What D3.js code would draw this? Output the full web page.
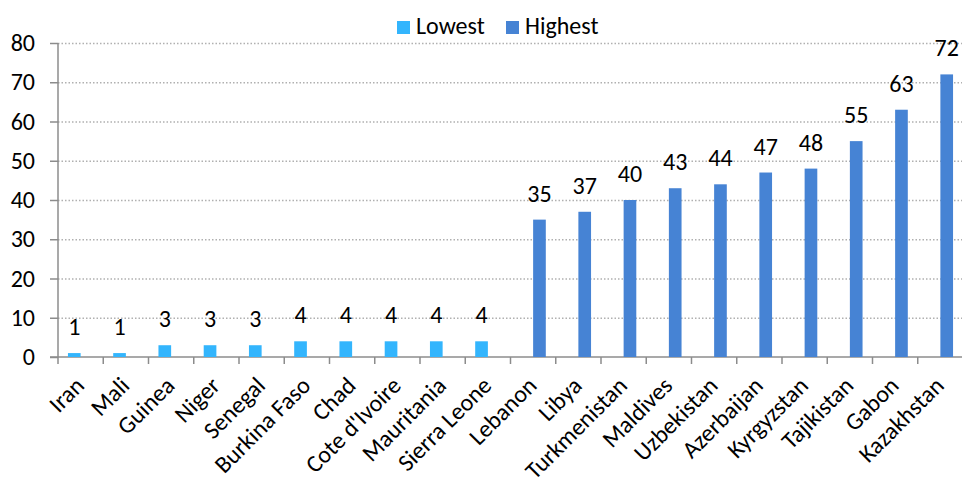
<!DOCTYPE html>
<html>
<head>
<meta charset="utf-8">
<script src="https://cdn.jsdelivr.net/npm/d3@7"></script>
<style>
  body { margin: 0; background: #fff; }
  svg text { font-family: Carlito, Lato, "Open Sans", sans-serif; fill: #000; }
</style>
</head>
<body>
<div id="drawArea"></div>
<script>
const countries = ['Iran', 'Mali', 'Guinea', 'Niger', 'Senegal', 'Burkina Faso', 'Chad',
  "Cote d'Ivoire", 'Mauritania', 'Sierra Leone', 'Lebanon', 'Libya', 'Turkmenistan',
  'Maldives', 'Uzbekistan', 'Azerbaijan', 'Kyrgyzstan', 'Tajikistan', 'Gabon', 'Kazakhstan'];
const seriesNames = ['Lowest', 'Highest'];
const lowestValues = [1, 1, 3, 3, 3, 4, 4, 4, 4, 4, null, null, null, null, null, null, null, null, null, null];
const highestValues = [null, null, null, null, null, null, null, null, null, null, 35, 37, 40, 43, 44, 47, 48, 55, 63, 72];
const yTicks = [0, 10, 20, 30, 40, 50, 60, 70, 80];
const colors = { Lowest: '#33b5fd', Highest: '#4683d4' };

const width = 962, height = 478;
const margin = { top: 43, right: 0, bottom: 121, left: 58 };
const fontSize = 24;

const svg = d3.select('#drawArea').append('svg')
  .attr('width', width)
  .attr('height', height);

const x = d3.scaleBand()
  .domain(countries)
  .range([margin.left, 963])
  .padding(0);

const gap = x.bandwidth() * 0.44;
const x1 = d3.scaleBand()
  .domain(seriesNames)
  .range([gap / 2, x.bandwidth() - gap / 2]);

const y = d3.scaleLinear()
  .domain([0, 80])
  .range([height - margin.bottom, margin.top]);

// dotted gridlines
svg.append('g')
  .attr('transform', `translate(${margin.left},0)`)
  .call(d3.axisLeft(y).tickValues(yTicks.slice(1)).tickSize(-(width - margin.left)).tickFormat(''))
  .call(g => g.select('.domain').remove())
  .selectAll('line')
  .attr('stroke', '#b0b0b0')
  .attr('stroke-width', 1.3)
  .attr('stroke-dasharray', '1.5,2');

// y axis
svg.append('g')
  .attr('transform', `translate(${margin.left},0)`)
  .call(d3.axisLeft(y).tickValues(yTicks).tickSize(8).tickPadding(15))
  .call(g => g.select('.domain').attr('stroke', '#8c8c8c').attr('stroke-width', 1.5).attr('d', `M0,${y(0)}V${y(80)}`))
  .call(g => g.selectAll('line').attr('stroke', '#8c8c8c').attr('stroke-width', 1.5))
  .call(g => g.selectAll('text').attr('font-size', fontSize).attr('fill', '#000')
    .attr('font-family', 'Carlito, Lato, sans-serif'));

// x axis line + boundary ticks
const xAxisG = svg.append('g');
xAxisG.append('line')
  .attr('x1', margin.left - 8).attr('x2', width)
  .attr('y1', y(0)).attr('y2', y(0))
  .attr('stroke', '#8c8c8c').attr('stroke-width', 1.5);
const boundaries = countries.map(d => x(d)).concat([x.range()[1]]);
xAxisG.selectAll('.xtick')
  .data(boundaries)
  .enter()
  .append('line')
  .attr('x1', d => d).attr('x2', d => d)
  .attr('y1', y(0)).attr('y2', y(0) + 7)
  .attr('stroke', '#8c8c8c').attr('stroke-width', 1.5);

xAxisG.selectAll('.xlabel')
  .data(countries)
  .enter()
  .append('text')
  .attr('font-size', fontSize)
  .attr('text-anchor', 'end')
  .attr('transform', d => `translate(${x(d) + x.bandwidth() / 2 + 5},${y(0) + 30}) rotate(-45)`)
  .text(d => d);

// bars
const rows = countries.map((c, i) => ({ country: c, Lowest: lowestValues[i], Highest: highestValues[i] }));
const bars = [];
rows.forEach(r => seriesNames.forEach(s => { if (r[s] != null) bars.push({ country: r.country, series: s, value: r[s] }); }));

svg.selectAll('.bar')
  .data(bars)
  .enter()
  .append('rect')
  .attr('class', 'bar')
  .attr('x', d => x(d.country) + x1(d.series))
  .attr('y', d => y(d.value))
  .attr('width', x1.bandwidth())
  .attr('height', d => y(0) - y(d.value))
  .attr('fill', d => colors[d.series]);

svg.selectAll('.value')
  .data(bars)
  .enter()
  .append('text')
  .attr('font-size', fontSize)
  .attr('text-anchor', 'middle')
  .attr('x', d => x(d.country) + x1(d.series) + x1.bandwidth() / 2)
  .attr('y', d => y(d.value) - 18)
  .text(d => d.value);

// legend
const legend = svg.append('g');
const legendPos = [397, 506];
seriesNames.forEach((s, i) => {
  legend.append('rect')
    .attr('x', legendPos[i]).attr('y', 21)
    .attr('width', 13).attr('height', 13)
    .attr('fill', colors[s]);
  legend.append('text')
    .attr('x', legendPos[i] + 19).attr('y', 34)
    .attr('font-size', fontSize)
    .text(s);
});
</script>
</body>
</html>
